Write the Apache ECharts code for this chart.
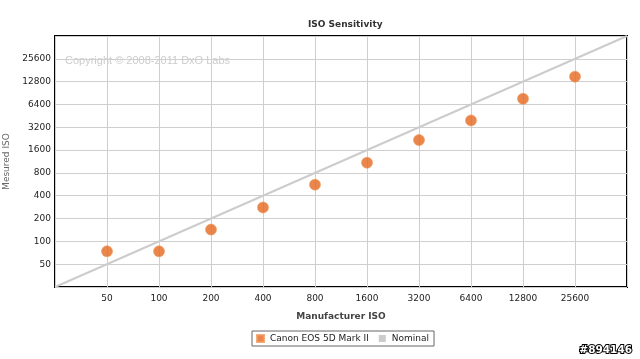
<!DOCTYPE html>
<html>
<head>
<meta charset="utf-8">
<script src="https://cdn.jsdelivr.net/npm/echarts@6/dist/echarts.min.js"></script>
<style>html,body{margin:0;padding:0;background:#fff}#c{width:640px;height:359px}</style>
</head>
<body>
<div id="c"></div>
<script>
const BASE = 25;
const manufacturerISO = [50, 100, 200, 400, 800, 1600, 3200, 6400, 12800, 25600];
const measuredISO = [74, 74, 143, 280, 560, 1090, 2170, 3940, 7610, 14900];
const nominalISO = [25, 51200];
const tickLabels = [50, 100, 200, 400, 800, 1600, 3200, 6400, 12800, 25600];

const toLog = v => Math.log2(v / BASE);
const fmt = v => {
  const r = Math.round(v);
  if (Math.abs(v - r) > 1e-6 || r < 1 || r > tickLabels.length) return '';
  return String(tickLabels[r - 1]);
};
const FONT = 'DejaVu Sans, Verdana, sans-serif';

const chart = echarts.init(document.getElementById('c'));
chart.setOption({
  animation: false,
  backgroundColor: '#fff',
  title: {
    text: 'ISO Sensitivity', left: 303, top: 15,
    textStyle: { fontFamily: FONT, fontSize: 9, fontWeight: 'bold', color: '#333' }
  },
  grid: {
    left: 55, right: 13, top: 36, bottom: 72, show: true,
    outerBoundsMode: 'none', containLabel: false,
    borderColor: '#000', borderWidth: 2, backgroundColor: '#fff'
  },
  xAxis: {
    type: 'value', min: 0, max: 11, interval: 1,
    name: 'Manufacturer ISO', nameLocation: 'middle', nameGap: 25,
    nameTextStyle: { fontFamily: FONT, fontSize: 9, fontWeight: 'bold', color: '#444' },
    axisLine: { show: false }, axisTick: { show: false },
    axisLabel: { formatter: fmt, fontFamily: FONT, fontSize: 9, color: '#222', margin: 7 },
    splitLine: { lineStyle: { color: '#cfcfcf', width: 1 } }
  },
  yAxis: {
    type: 'value', min: 0, max: 11, interval: 1,
    name: 'Mesured ISO', nameLocation: 'middle', nameGap: 38,
    nameTextStyle: { fontFamily: FONT, fontSize: 9, color: '#666' },
    axisLine: { show: false }, axisTick: { show: false },
    axisLabel: { formatter: fmt, fontFamily: FONT, fontSize: 9, color: '#222', margin: 4 },
    splitLine: { lineStyle: { color: '#cfcfcf', width: 1 } }
  },
  legend: {
    left: 252, top: 331, orient: 'horizontal',
    borderColor: '#666', borderWidth: 1, padding: [3, 5, 3, 4],
    itemWidth: 7, itemHeight: 7, itemGap: 10, icon: 'rect',
    textStyle: { fontFamily: FONT, fontSize: 9, color: '#222', padding: [0, 0, 0, 1] },
    data: ['Canon EOS 5D Mark II', 'Nominal']
  },
  graphic: [
    { type: 'text', left: 65, top: 55, silent: true,
      style: { text: 'Copyright © 2008-2011 DxO Labs', font: '11px Liberation Sans, Arial, sans-serif', fill: '#cccccc' } },
    { type: 'text', right: 7, top: 344, silent: true,
      style: { text: '#894146', font: 'bold 10.5px ' + FONT, fill: '#fff', stroke: '#000', lineWidth: 2 } }
  ],
  series: [
    {
      name: 'Nominal', type: 'line', symbol: 'none', silent: true,
      lineStyle: { color: '#cccccc', width: 2 }, itemStyle: { color: '#cccccc' },
      data: nominalISO.map(v => [toLog(v), toLog(v)]), z: 2
    },
    {
      name: 'Canon EOS 5D Mark II', type: 'scatter', symbolSize: 11,
      itemStyle: { color: '#e5681f', borderColor: '#f09a5c', borderWidth: 0.8 },
      data: manufacturerISO.map((m, i) => [toLog(m), toLog(measuredISO[i])]), z: 3
    }
  ]
});
</script>
</body>
</html>
